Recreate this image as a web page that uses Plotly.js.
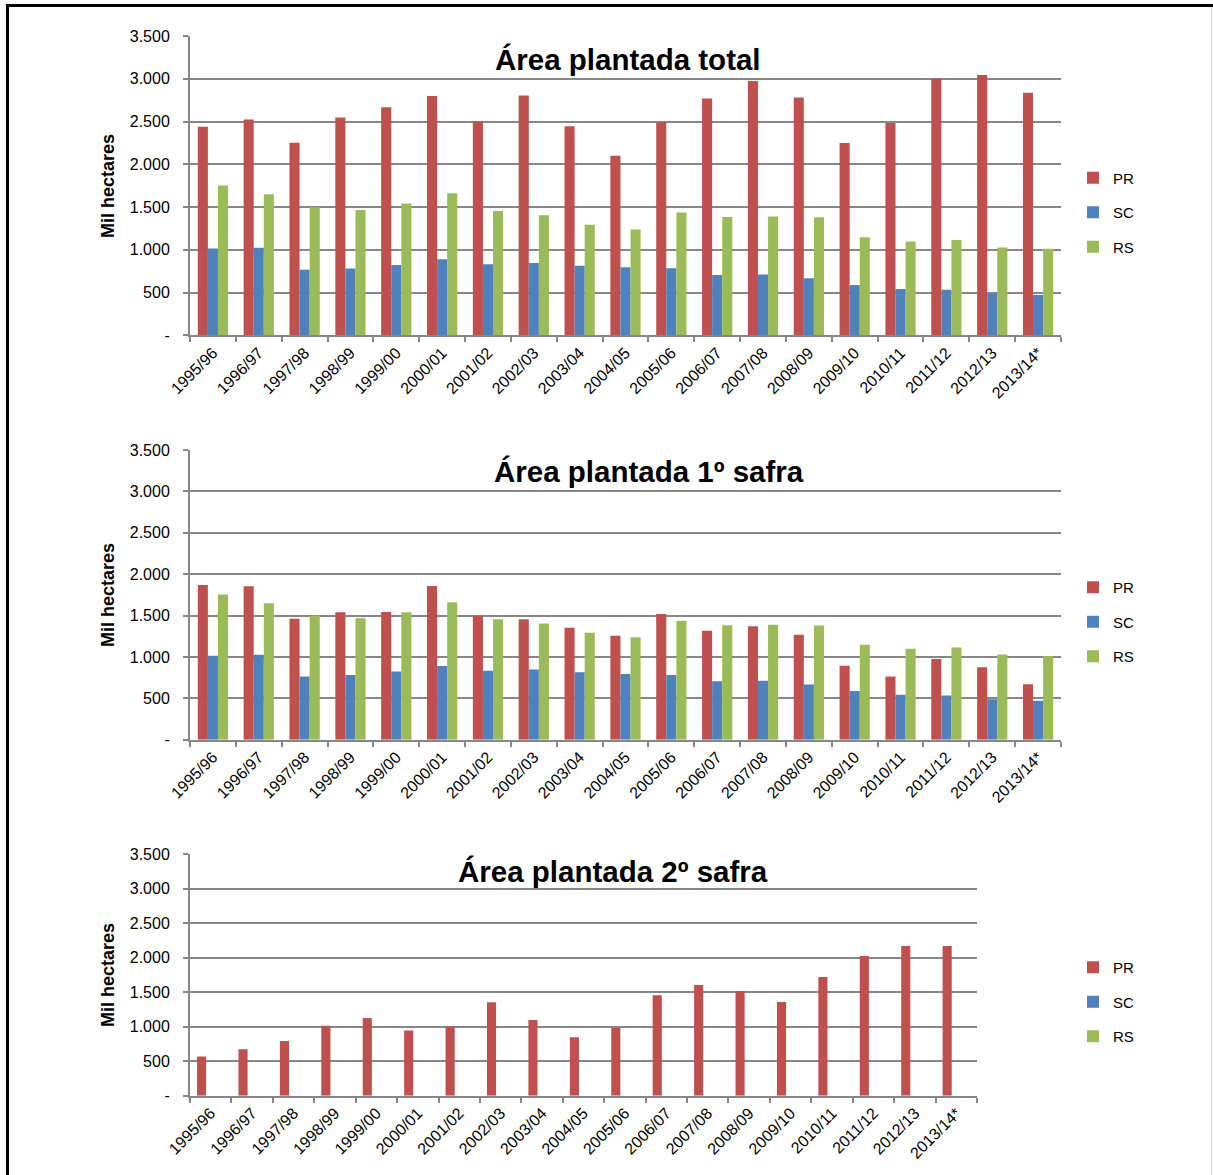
<!DOCTYPE html>
<html>
<head>
<meta charset="utf-8">
<script src="https://cdn.plot.ly/plotly-3.0.1.min.js"></script>
<style>
  html, body { margin: 0; padding: 0; background: #ffffff; }
  #chart { width: 1213px; height: 1175px; }
</style>
</head>
<body>
<div id="chart"></div>
<script>
// Safras (crop years)
const categories = ["1995/96", "1996/97", "1997/98", "1998/99", "1999/00", "2000/01", "2001/02",
  "2002/03", "2003/04", "2004/05", "2005/06", "2006/07", "2007/08", "2008/09", "2009/10",
  "2010/11", "2011/12", "2012/13", "2013/14*"];

// Área plantada total (mil hectares)
const prTotal = [2440, 2523, 2253, 2548, 2666, 2798, 2500, 2804, 2446, 2101, 2492, 2770, 2975, 2782, 2248, 2483, 2999, 3045, 2837];
const scTotal = [1015, 1024, 766, 782, 822, 890, 830, 846, 814, 795, 783, 705, 712, 666, 588, 542, 533, 490, 471];
const rsTotal = [1752, 1649, 1497, 1466, 1541, 1662, 1455, 1405, 1292, 1238, 1436, 1382, 1388, 1381, 1148, 1098, 1113, 1028, 1012];

// Área plantada 1ª safra (mil hectares)
const pr1a = [1869, 1853, 1462, 1539, 1543, 1857, 1498, 1454, 1353, 1257, 1519, 1317, 1370, 1269, 894, 765, 975, 874, 669];
const sc1a = [1015, 1026, 765, 781, 825, 890, 833, 849, 814, 795, 783, 705, 712, 666, 588, 542, 533, 490, 471];
const rs1a = [1754, 1650, 1497, 1466, 1541, 1662, 1455, 1405, 1292, 1238, 1436, 1382, 1388, 1381, 1148, 1098, 1113, 1028, 1012];

// Área plantada 2ª safra (mil hectares)
const pr2a = [570, 672, 793, 1015, 1126, 947, 1005, 1354, 1097, 846, 981, 1455, 1605, 1518, 1358, 1721, 2025, 2170, 2170];
const sc2a = [0, 0, 0, 0, 0, 0, 0, 0, 0, 0, 0, 0, 0, 0, 0, 0, 0, 0, 0];
const rs2a = [0, 0, 0, 0, 0, 0, 0, 0, 0, 0, 0, 0, 0, 0, 0, 0, 0, 0, 0];

// Eixo Y
const yTickVals = [0, 500, 1000, 1500, 2000, 2500, 3000, 3500];
const yTickText = ["-", "500", "1.000", "1.500", "2.000", "2.500", "3.000", "3.500"];

const seriesNames = ["PR", "SC", "RS"];
const colors = ["#C0504D", "#4F81BD", "#9BBB59"];
const panelTitles = ["Área plantada total", "Área plantada 1º safra", "Área plantada 2º safra"];
const yTitle = "Mil hectares";

const W = 1213, H = 1175;
const px = v => v / W;
const py = v => 1 - v / H;

const FONT = "Liberation Sans, Arial, sans-serif";
const GRID = "#878787";

const panels = [
  { data: [prTotal, scTotal, rsTotal], x: [190, 1061], y: [36, 335.3], legendY: 212.5, titleX: 628, titleY: 60, yTitleY: 186 },
  { data: [pr1a, sc1a, rs1a],           x: [190, 1061], y: [450, 739.7], legendY: 622, titleX: 649, titleY: 471, yTitleY: 595 },
  { data: [pr2a, sc2a, rs2a],           x: [190, 977],  y: [854.3, 1095.7], legendY: 1002, titleX: 613, titleY: 871, yTitleY: 975 }
];

const traces = [];
const layout = {
  width: W, height: H,
  margin: { l: 0, r: 0, t: 0, b: 0 },
  paper_bgcolor: "#ffffff",
  plot_bgcolor: "#ffffff",
  font: { family: FONT, color: "#000000" },
  barmode: "group",
  bargap: 0.34,
  bargroupgap: 0,
  showlegend: true,
  annotations: [],
  shapes: [
    // moldura
    { type: "line", xref: "paper", yref: "paper", x0: px(7.5), x1: px(7.5), y0: 0, y1: py(4), line: { color: "#000000", width: 3 } },
    { type: "line", xref: "paper", yref: "paper", x0: px(6), x1: 1, y0: py(5.5), y1: py(5.5), line: { color: "#000000", width: 3 } },
    { type: "line", xref: "paper", yref: "paper", x0: px(1211.5), x1: px(1211.5), y0: 0, y1: py(7), line: { color: "#d4d4d4", width: 1 } }
  ]
};

panels.forEach((p, i) => {
  const n = i + 1;
  const xa = n === 1 ? "x" : "x" + n;
  const ya = n === 1 ? "y" : "y" + n;
  const lg = n === 1 ? "legend" : "legend" + n;

  p.data.forEach((vals, s) => {
    traces.push({
      type: "bar",
      name: seriesNames[s],
      x: categories,
      y: vals,
      xaxis: xa,
      yaxis: ya,
      legend: lg,
      legendgroup: seriesNames[s] + n,
      marker: { color: colors[s], line: { width: 0 } },
      hoverinfo: "x+y+name"
    });
  });

  layout[n === 1 ? "xaxis" : "xaxis" + n] = {
    type: "category",
    domain: [px(p.x[0]), px(p.x[1])],
    anchor: ya,
    showgrid: false,
    showline: true,
    linecolor: GRID,
    linewidth: 2,
    ticks: "outside",
    tickson: "boundaries",
    ticklen: 5,
    tickwidth: 2,
    tickcolor: GRID,
    tickangle: -45,
    tickfont: { family: FONT, size: 16, color: "#000000" },
    automargin: false,
    fixedrange: true
  };

  layout[n === 1 ? "yaxis" : "yaxis" + n] = {
    domain: [py(p.y[1]), py(p.y[0])],
    anchor: xa,
    range: [0, 3500],
    tickmode: "array",
    tickvals: yTickVals,
    ticktext: yTickText,
    showgrid: true,
    gridcolor: GRID,
    gridwidth: 2,
    zeroline: false,
    showline: true,
    linecolor: GRID,
    linewidth: 2,
    ticks: "outside",
    ticklen: 5,
    tickwidth: 2,
    tickcolor: GRID,
    ticklabelstandoff: 10,
    tickfont: { family: FONT, size: 16, color: "#000000" },
    automargin: false,
    fixedrange: true
  };

  layout[lg] = {
    x: px(1073),
    y: py(p.legendY),
    xanchor: "left",
    yanchor: "middle",
    bgcolor: "rgba(0,0,0,0)",
    font: { family: FONT, size: 15, color: "#000000" },
    tracegroupgap: 12,
    itemclick: false,
    itemdoubleclick: false
  };

  layout.annotations.push({
    xref: "paper", yref: "paper",
    x: px(p.titleX), y: py(p.titleY),
    xanchor: "center", yanchor: "middle",
    text: "<b>" + panelTitles[i] + "</b>",
    showarrow: false,
    font: { family: FONT, size: 29.5, color: "#000000" }
  });

  layout.annotations.push({
    xref: "paper", yref: "paper",
    x: px(108), y: py(p.yTitleY),
    xanchor: "center", yanchor: "middle",
    textangle: -90,
    text: "<b>" + yTitle + "</b>",
    showarrow: false,
    font: { family: FONT, size: 18, color: "#000000" }
  });
});

Plotly.newPlot("chart", traces, layout, { displayModeBar: false, staticPlot: true });
</script>
</body>
</html>
